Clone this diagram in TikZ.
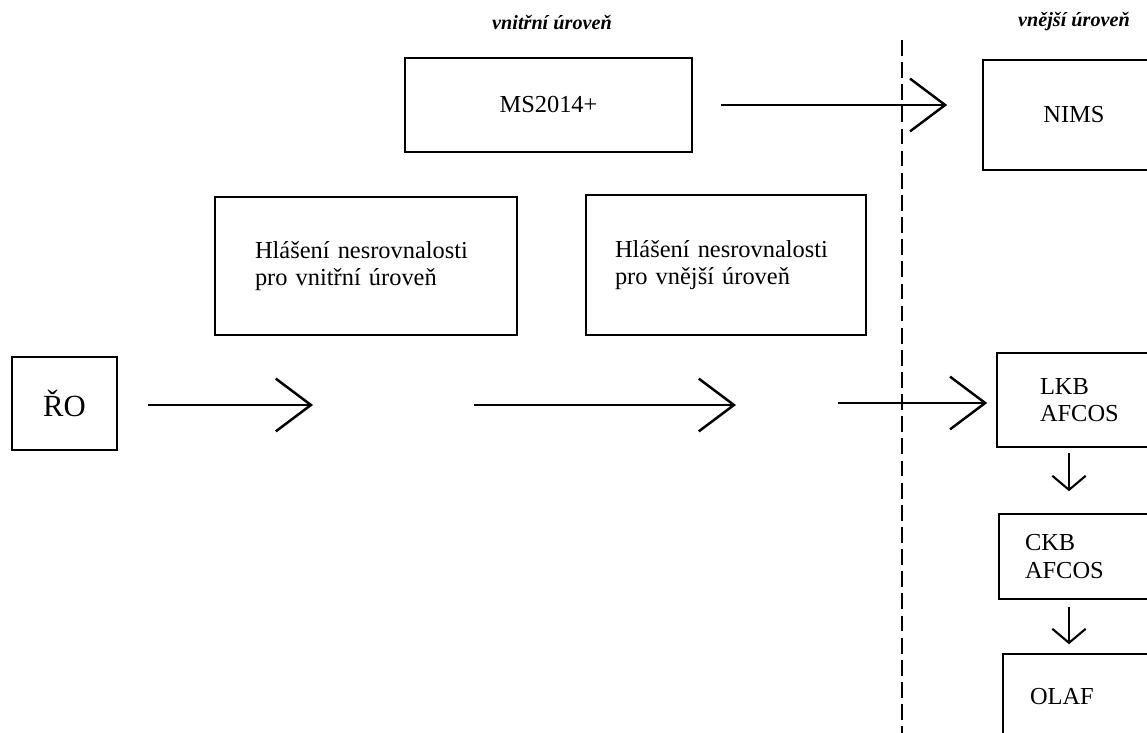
\documentclass[tikz,border=0pt]{standalone}
\usepackage{fontspec}
\setmainfont{Liberation Serif}
\usetikzlibrary{arrows.meta}

\begin{document}
\begin{tikzpicture}[x=0.02cm,y=-0.02cm,
		box/.style={draw, line width=0.9pt, inner ysep=0pt, font=\fontsize{13.9}{15.5}\selectfont},
		lbox/.style={box, align=left},
		flow/.style={line width=1.4pt, -{Straight Barb[length=20pt,width=30pt]}},
		down/.style={line width=1.2pt, -{Straight Barb[length=8pt,width=19pt]}},
		level/.style={font=\fontsize{11.5}{13}\selectfont\bfseries\itshape}]
		\useasboundingbox (0,0) rectangle (1147,733);
		\clip (0,0) rectangle (1147,733);
		\node[level] (inner) at (552,22) {vnitřní úroveň};
		\node[level] (outer) at (1074,22) {vnější úroveň};
		\coordinate (dtop) at (902,40);
		\coordinate (dbot) at (902,733);
		\draw[line width=0.6pt, dash pattern=on 9pt off 3.6pt] (dtop) -- (dbot);
		\node[box, minimum width=2.1cm, minimum height=1.86cm, font=\fontsize{17.5}{19}\selectfont] (ro) at (64.5,403.5) {ŘO};
		\node[box, minimum width=5.74cm, minimum height=1.88cm] (ms) at (548.5,105) {MS2014+};
		\node[box, minimum width=3.64cm, minimum height=2.2cm] (nims) at (1074,115) {NIMS};
		\node[lbox, minimum width=6.04cm, minimum height=2.76cm, inner xsep=0.8cm, text width=4.44cm] (hin) at (366,266) {Hlášení nesrovnalosti\\pro vnitřní úroveň};
		\node[lbox, minimum width=5.6cm, minimum height=2.8cm, inner xsep=0.58cm, text width=4.44cm] (hout) at (726,265) {Hlášení nesrovnalosti\\pro vnější úroveň};
		\node[lbox, minimum width=3.36cm, minimum height=1.88cm, inner xsep=0.86cm, text width=1.64cm] (lkb) at (1081,400) {LKB\\AFCOS};
		\node[lbox, minimum width=3.32cm, minimum height=1.7cm, inner xsep=0.52cm, text width=2.28cm] (ckb) at (1082,556.5) {CKB\\AFCOS};
		\node[lbox, minimum width=3.24cm, minimum height=1.72cm, inner xsep=0.54cm, text width=2.16cm] (olaf) at (1084,697) {OLAF};
		\coordinate (a1s) at (148,405);
		\coordinate (a1e) at (313,405);
		\coordinate (a2s) at (474,405);
		\coordinate (a2e) at (736,405);
		\coordinate (a3s) at (838,403);
		\coordinate (dx) at (1069,0);
		\draw[flow] (a1s) -- (a1e);
		\draw[flow] (a2s) -- (a2e);
		\draw[flow, shorten >=0.18cm] (a3s) -- (a3s -| lkb.west);
		\draw[flow, shorten <=0.56cm, shorten >=0.7cm] (ms.east) -- (ms.east -| nims.west);
		\draw[down, shorten <=0.1cm, shorten >=0.44cm] (lkb.south -| dx) -- (ckb.north -| dx);
		\draw[down, shorten <=0.14cm, shorten >=0.18cm] (ckb.south -| dx) -- (olaf.north -| dx);
	\end{tikzpicture}
\end{document}
